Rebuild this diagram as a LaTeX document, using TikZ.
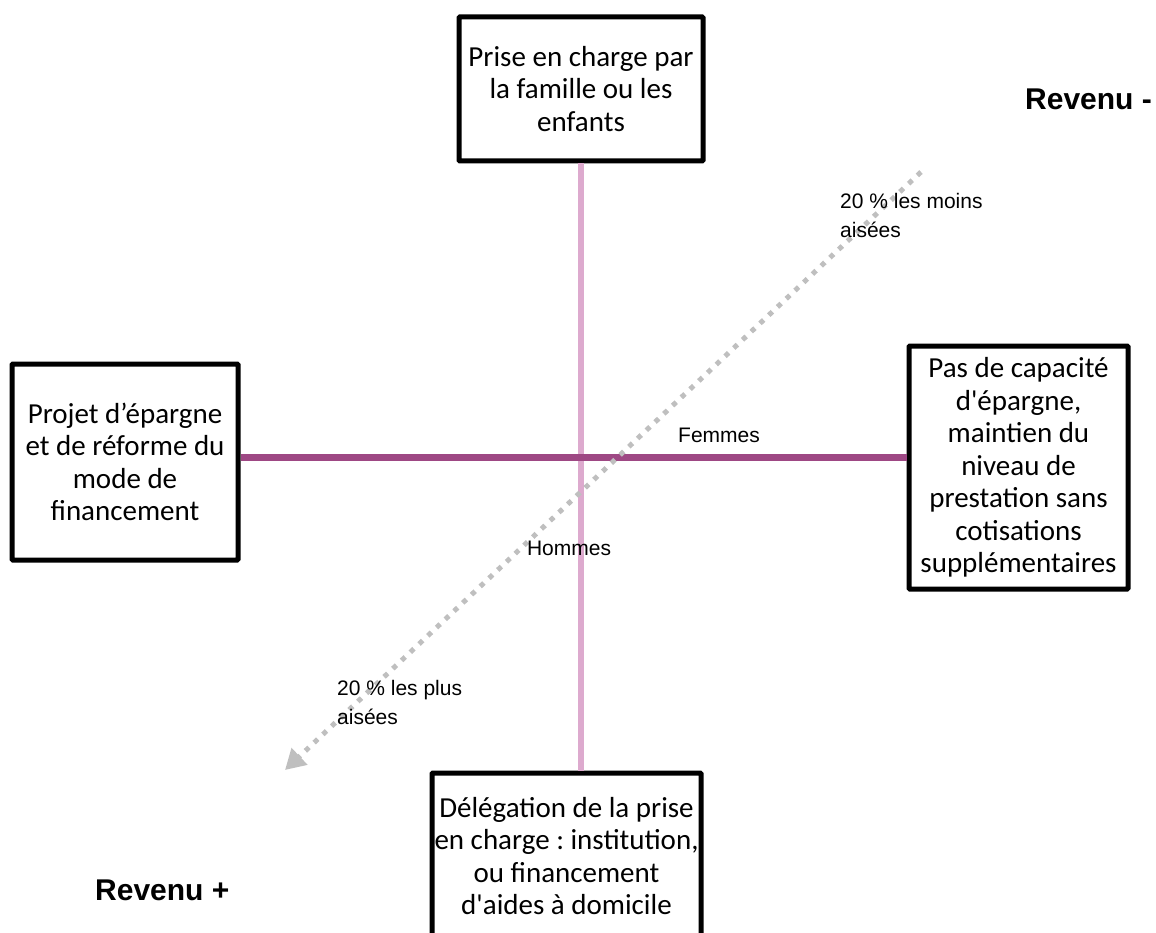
\documentclass[tikz,border=0pt]{standalone}
\usepackage{fontspec}
\usetikzlibrary{arrows.meta}
\newfontfamily\boxfont{Carlito}[Ligatures=TeXOff]
\newfontfamily\labelfont{Liberation Sans}
\definecolor{axpink}{RGB}{221,170,206}
\definecolor{axpurple}{RGB}{158,72,132}
\definecolor{axgray}{RGB}{191,191,191}
\frenchspacing

\begin{document}
\begin{tikzpicture}[x=1pt, y=-1pt,
  choicebox/.style={draw=black, line width=5pt, rounded corners=1pt, fill=white, align=center, inner sep=0pt, font=\boxfont\fontsize{29}{32.5}\selectfont},
  axislabel/.style={font=\labelfont\fontsize{21}{24}\selectfont, inner sep=0pt},
  groupnote/.style={font=\labelfont\fontsize{21}{29}\selectfont, align=left, anchor=north west, inner sep=0pt},
  revenue/.style={font=\labelfont\bfseries\fontsize{30}{34}\selectfont, inner sep=0pt, anchor=base west}]
\useasboundingbox (0,0) rectangle (1156,933);

% Choice boxes
\node[choicebox, minimum width=244pt, minimum height=144pt] (famille) at (581,89) {Prise en charge par\\la famille ou les\\enfants};
\node[choicebox, minimum width=226pt, minimum height=196pt] (epargne) at (125,462) {Projet d’épargne\\et de réforme du\\mode de\\financement};
\node[choicebox, minimum width=219pt, minimum height=243pt] (capacite) at (1018.5,467.5) {Pas de capacité\\d'épargne,\\maintien du\\niveau de\\prestation sans\\cotisations\\supplémentaires};
\node[choicebox, minimum width=269pt, minimum height=166pt] (delegation) at (566.5,856) {Délégation de la prise\\en charge : institution,\\ou financement\\d'aides à domicile};

% Axes
\coordinate (centre) at (582,457);
\draw[axpink, line width=5.5pt] (famille.south) -- (famille.south |- delegation.north);
\draw[axpurple, line width=7pt] (epargne.east |- centre) -- (capacite.west |- centre);

% Income axis
\coordinate (moins) at (921,172);
\coordinate (plus) at (285,770);
\draw[axgray, line width=5pt, dash pattern=on 5pt off 7pt, -{Triangle[length=20pt, width=22pt]}] (moins) -- (plus);

% Labels
\node[axislabel] (femmes) at (719,435) {Femmes};
\node[axislabel] (hommes) at (569,548) {Hommes};
\node[groupnote] (moinsaises) at (840,193) {20 \% les moins\\aisées};
\node[groupnote] (plusaises) at (337,680) {20 \% les plus\\aisées};
\node[revenue] (revmoins) at (1025,110) {Revenu -};
\node[revenue] (revplus) at (95,900) {Revenu +};
\end{tikzpicture}
\end{document}
